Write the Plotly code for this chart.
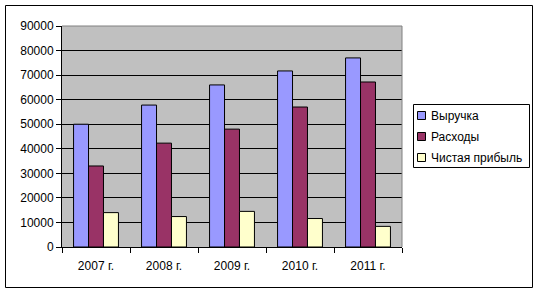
import plotly.graph_objects as go

categories = ["2007 г.", "2008 г.", "2009 г.", "2010 г.", "2011 г."]
revenue = [50000, 57800, 66000, 71700, 77000]
expenses = [33000, 42300, 48000, 57000, 67200]
profit = [14000, 12400, 14500, 11600, 8400]
series_names = ["Выручка", "Расходы", "Чистая прибыль"]
colors = ["#9999FF", "#993366", "#FFFFCC"]

fig = go.Figure()
for name, vals, c in zip(series_names, [revenue, expenses, profit], colors):
    fig.add_trace(go.Bar(x=categories, y=vals, name=name, showlegend=False,
                         marker=dict(color=c, line=dict(color="black", width=1))))

W, H = 539, 292
L, R, T, B = 62, 137, 26, 45
pw = W - L - R
ph = H - T - B

def px_x(px):
    return (px - L) / pw

def px_y(py):
    return (H - B - py) / ph

shapes = [
    # plot area border top/right (gray)
    dict(type="line", xref="paper", yref="paper", x0=0, x1=1, y0=1, y1=1,
         line=dict(color="#808080", width=1), layer="above"),
    dict(type="line", xref="paper", yref="paper", x0=1, x1=1, y0=0, y1=1,
         line=dict(color="#808080", width=1), layer="above"),
    # outer chart border
    dict(type="rect", xref="paper", yref="paper",
         x0=px_x(5.5), x1=px_x(532.5), y0=px_y(287.5), y1=px_y(5.5),
         line=dict(color="black", width=1)),
    # legend box
    dict(type="rect", xref="paper", yref="paper",
         x0=px_x(413.5), x1=px_x(529.5), y0=px_y(167.5), y1=px_y(104.5),
         line=dict(color="black", width=1), fillcolor="white"),
]
annotations = []
leg_y = [115.5, 136.5, 157.5]
for name, c, yc in zip(series_names, colors, leg_y):
    shapes.append(dict(type="rect", xref="paper", yref="paper",
                       x0=px_x(417.5), x1=px_x(425.5),
                       y0=px_y(yc + 4), y1=px_y(yc - 4),
                       line=dict(color="black", width=1), fillcolor=c))
    annotations.append(dict(text=name, xref="paper", yref="paper",
                            x=px_x(429), y=px_y(yc), xanchor="left", yanchor="middle",
                            showarrow=False, font=dict(size=12, color="black")))

fig.update_layout(
    width=W, height=H,
    margin=dict(l=L, r=R, t=T, b=B, autoexpand=False),
    paper_bgcolor="white",
    plot_bgcolor="#C0C0C0",
    barmode="group",
    bargap=0.34,
    bargroupgap=0,
    font=dict(family="Liberation Sans, Arial", size=12, color="black"),
    showlegend=False,
    xaxis=dict(
        tickson="boundaries", ticks="outside", ticklen=5, tickcolor="black",
        showline=True, linecolor="black", linewidth=1,
        showgrid=False, tickfont=dict(size=12), ticklabelstandoff=8,
    ),
    yaxis=dict(
        range=[0, 90000], dtick=10000, ticks="outside", ticklen=5,
        tickcolor="black", showline=True, linecolor="black", linewidth=1,
        showgrid=True, gridcolor="black", gridwidth=1, zeroline=False,
        tickfont=dict(size=12), tickformat="d",
    ),
    shapes=shapes,
    annotations=annotations,
)

fig.write_html("out.html")
